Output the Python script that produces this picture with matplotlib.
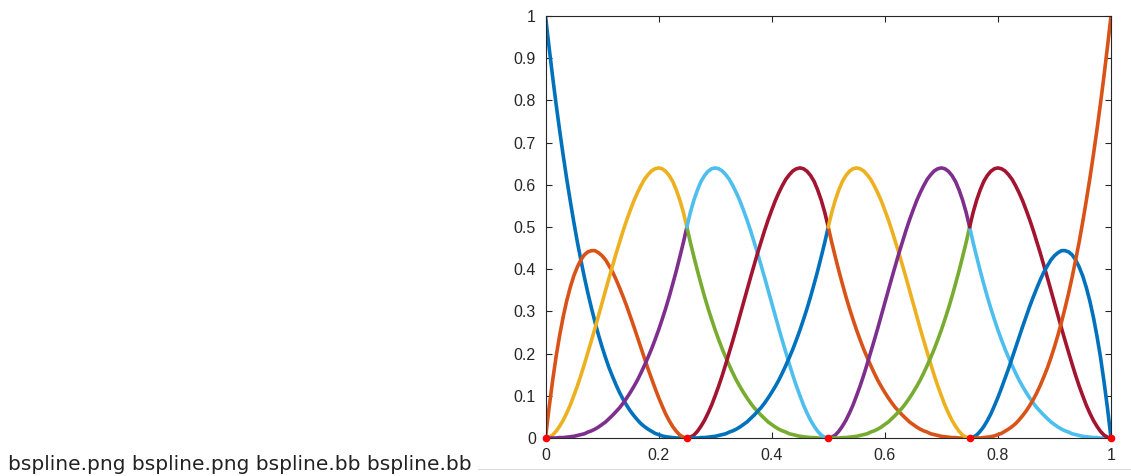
import matplotlib
matplotlib.use("Agg")
import matplotlib.pyplot as plt

# knots of the spline (red dots on the x axis)
knots = [0.0, 0.25, 0.5, 0.75, 1.0]

# local position inside one knot span (0 .. 1), step 0.025
span_t = [i / 40 for i in range(41)]

# curve pieces, one list per shape seen in a span
end_fall = [1.000, 0.927, 0.857, 0.791, 0.729, 0.670, 0.614, 0.562, 0.512, 0.465, 0.422,
            0.381, 0.343, 0.308, 0.275, 0.244, 0.216, 0.190, 0.166, 0.145, 0.125,
            0.107, 0.091, 0.077, 0.064, 0.053, 0.043, 0.034, 0.027, 0.021, 0.016,
            0.011, 0.008, 0.005, 0.003, 0.002, 0.001, 0.000, 0.000, 0.000, 0.000]
end_rise = [0.000, 0.000, 0.000, 0.000, 0.001, 0.002, 0.003, 0.005, 0.008, 0.011, 0.016,
            0.021, 0.027, 0.034, 0.043, 0.053, 0.064, 0.077, 0.091, 0.107, 0.125,
            0.145, 0.166, 0.190, 0.216, 0.244, 0.275, 0.308, 0.343, 0.381, 0.422,
            0.465, 0.512, 0.562, 0.614, 0.670, 0.729, 0.791, 0.857, 0.927, 1.000]
half_fall = [0.500, 0.463, 0.429, 0.396, 0.365, 0.335, 0.307, 0.281, 0.256, 0.233, 0.211,
             0.191, 0.172, 0.154, 0.137, 0.122, 0.108, 0.095, 0.083, 0.072, 0.063,
             0.054, 0.046, 0.038, 0.032, 0.026, 0.021, 0.017, 0.014, 0.010, 0.008,
             0.006, 0.004, 0.003, 0.002, 0.001, 0.001, 0.000, 0.000, 0.000, 0.000]
half_rise = [0.000, 0.000, 0.000, 0.000, 0.001, 0.001, 0.002, 0.003, 0.004, 0.006, 0.008,
             0.010, 0.014, 0.017, 0.021, 0.026, 0.032, 0.038, 0.046, 0.054, 0.063,
             0.072, 0.083, 0.095, 0.108, 0.122, 0.137, 0.154, 0.172, 0.191, 0.211,
             0.233, 0.256, 0.281, 0.307, 0.335, 0.365, 0.396, 0.429, 0.463, 0.500]
small_bump_left = [0.000, 0.071, 0.135, 0.193, 0.243, 0.287, 0.325, 0.357, 0.384, 0.405, 0.422,
                   0.434, 0.441, 0.444, 0.444, 0.439, 0.432, 0.422, 0.408, 0.393, 0.375,
                   0.355, 0.334, 0.312, 0.288, 0.264, 0.239, 0.214, 0.189, 0.164, 0.141,
                   0.118, 0.096, 0.076, 0.057, 0.041, 0.027, 0.016, 0.007, 0.002, 0.000]
small_bump_right = [0.000, 0.002, 0.007, 0.016, 0.027, 0.041, 0.057, 0.076, 0.096, 0.118, 0.141,
                    0.164, 0.189, 0.214, 0.239, 0.264, 0.288, 0.312, 0.334, 0.355, 0.375,
                    0.393, 0.408, 0.422, 0.432, 0.439, 0.444, 0.444, 0.441, 0.434, 0.422,
                    0.405, 0.384, 0.357, 0.325, 0.287, 0.243, 0.193, 0.135, 0.071, 0.000]
big_bump_right = [0.000, 0.002, 0.007, 0.016, 0.028, 0.042, 0.059, 0.078, 0.100, 0.123, 0.148,
                  0.175, 0.203, 0.231, 0.260, 0.290, 0.320, 0.350, 0.380, 0.409, 0.438,
                  0.465, 0.492, 0.517, 0.540, 0.562, 0.581, 0.598, 0.613, 0.624, 0.633,
                  0.638, 0.640, 0.638, 0.632, 0.622, 0.608, 0.588, 0.564, 0.535, 0.500]
big_bump_left = [0.500, 0.535, 0.564, 0.588, 0.608, 0.622, 0.632, 0.638, 0.640, 0.638, 0.633,
                 0.624, 0.613, 0.598, 0.581, 0.562, 0.540, 0.517, 0.492, 0.465, 0.438,
                 0.409, 0.380, 0.350, 0.320, 0.290, 0.260, 0.231, 0.203, 0.175, 0.148,
                 0.123, 0.100, 0.078, 0.059, 0.042, 0.028, 0.016, 0.007, 0.002, 0.000]

# pieces drawn in each span, in drawing order
span_pieces = [
    [end_fall, small_bump_left, big_bump_right, half_rise],
    [half_fall, big_bump_left, big_bump_right, half_rise],
    [half_fall, big_bump_left, big_bump_right, half_rise],
    [half_fall, big_bump_left, small_bump_right, end_rise],
]

# matlab default colour order
colors = ["#0072BD", "#D95319", "#EDB120", "#7E2F8E", "#77AC30", "#4DBEEE", "#A2142F"]

fig = plt.figure(figsize=(11.31, 4.76), dpi=100)
ax = fig.add_axes([545.5 / 1131, 38 / 476, 565.5 / 1131, 422 / 476])

k = 0
for i in range(len(span_pieces)):
    a = knots[i]
    b = knots[i + 1]
    xs = [a + (b - a) * t for t in span_t]
    for piece in span_pieces[i]:
        ax.plot(xs, piece, color=colors[k % len(colors)], lw=2.6, solid_capstyle="round")
        k += 1

ax.plot(knots, [0] * len(knots), "o", color="red", ms=4.5, zorder=5, clip_on=False)

ax.set_xlim(0, 1)
ax.set_ylim(0, 1)
ax.set_xticks([0, 0.2, 0.4, 0.6, 0.8, 1])
ax.set_xticklabels(["0", "0.2", "0.4", "0.6", "0.8", "1"])
ax.set_yticks([0, 0.1, 0.2, 0.3, 0.4, 0.5, 0.6, 0.7, 0.8, 0.9, 1])
ax.set_yticklabels(["0", "0.1", "0.2", "0.3", "0.4", "0.5", "0.6", "0.7", "0.8", "0.9", "1"])
ax.tick_params(direction="in", top=True, right=True, length=4, width=0.8,
               colors="#262626", labelsize=11.5, pad=7)
for lab in ax.get_xticklabels() + ax.get_yticklabels():
    lab.set_family("Liberation Sans")
for s in ax.spines.values():
    s.set_color("#262626")
    s.set_linewidth(0.8)

fig.text(8 / 1131, 1 - 470 / 476, "bspline.png bspline.png bspline.bb bspline.bb",
         fontsize=14.5, color="#222222", family="DejaVu Sans", va="baseline")
fig.add_artist(plt.Line2D([478 / 1131, 1.0], [1 - 469 / 476, 1 - 469 / 476],
                          color="#dddddd", lw=0.8))

fig.savefig("out.png", dpi=100)
